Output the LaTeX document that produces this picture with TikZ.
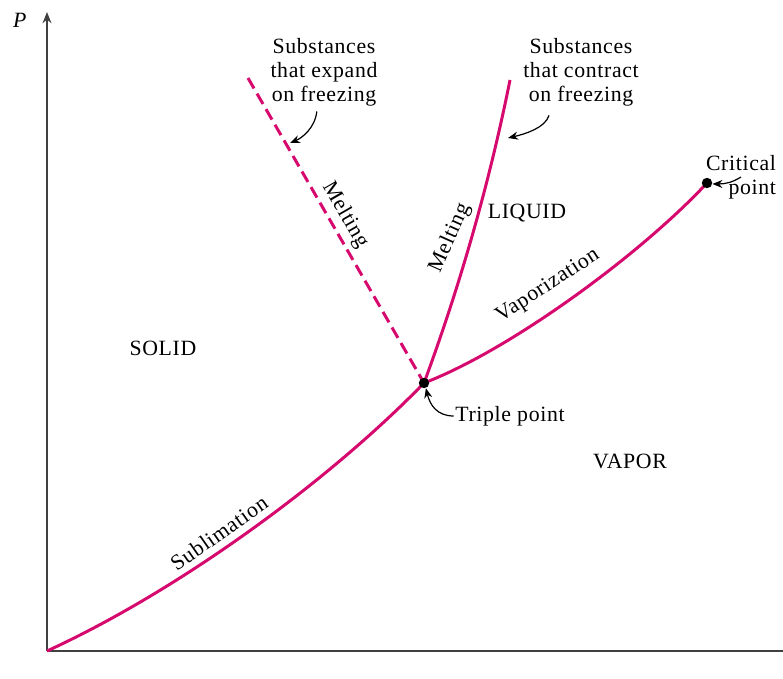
\documentclass[tikz,border=0pt]{standalone}
\usepackage{fontspec}
\setmainfont{Liberation Serif}[LetterSpace=3]
\usepackage{tikz}
\usetikzlibrary{arrows.meta}
\definecolor{phase}{RGB}{214,10,110}
\tikzset{
  curve/.style={phase,line width=0.75mm},
  axis/.style={draw=black!75,line width=0.5mm},
  dot/.style={circle,fill=black,inner sep=0pt,minimum size=2.6mm},
  lab/.style={font=\fontsize{15.5}{17}\selectfont,inner sep=1pt},
  pointer/.style={-{Stealth[length=2.5mm,width=2mm]},line width=0.3mm}
}

\begin{document}
\begin{tikzpicture}[x=0.25mm,y=-0.25mm]
\useasboundingbox (0,0) rectangle (783,679);
\coordinate (O) at (47,651);
\coordinate (ptop) at (47,12);
\coordinate (tend) at (783,651);
\coordinate (tp) at (424,383);
\coordinate (cp) at (707,183);
\coordinate (mtop) at (510,80);
\coordinate (dtop) at (248,78);
\coordinate (xtip) at (290,143);
\coordinate (ctip) at (508,138);

\draw[axis,-{Stealth[length=2.8mm,width=2.2mm]}] (O) -- (ptop);
\draw[axis] (O) -- (tend);
\node[lab] (plab) at (20,20) {\textit{P}};

\draw[curve] (O) .. controls (180,590) and (330,480) .. (tp);
\draw[curve] (tp) .. controls (510,350) and (640,255) .. (cp);
\draw[curve] (tp) .. controls (461,283) and (490,180) .. (mtop);
\draw[curve,dash pattern=on 3mm off 1.5mm] (dtop) -- (tp);
\node[dot] (tpdot) at (tp) {};
\node[dot] (cpdot) at (cp) {};

\node[lab,rotate=35] (sub) at (219,533) {Sublimation};
\node[lab,rotate=33] (vap) at (548,286) {Vaporization};
\node[lab,rotate=66] (melt) at (450,238) {Melting};
\node[lab,rotate=-60] (meltd) at (345,215) {Melting};
\node[lab] (liq) at (527,213) {LIQUID};
\node[lab] (sol) at (163,348) {SOLID};
\node[lab] (vapor) at (630,461) {VAPOR};
\node[lab] (tplab) at (510,416) {Triple point};
\node[lab,align=right] (crit) at (741,177) {Critical\\point};
\node[lab,align=center] (expand) at (324,72) {Substances\\that expand\\on freezing};
\node[lab,align=center] (contract) at (581,72) {Substances\\that contract\\on freezing};

\draw[pointer] ([xshift=-1.8mm,yshift=-1mm]expand.south) .. controls (315,128) and (302,138) .. (xtip);
\draw[pointer] ([xshift=-8mm,yshift=-2mm]contract.south) .. controls (545,128) and (525,134) .. (ctip);
\draw[pointer] (tplab.west) .. controls (437,416) and (430,405) .. (tpdot.-70);
\draw[pointer] (crit.center) .. controls (733,182) and (726,184) .. (cpdot.-10);
\end{tikzpicture}
\end{document}
